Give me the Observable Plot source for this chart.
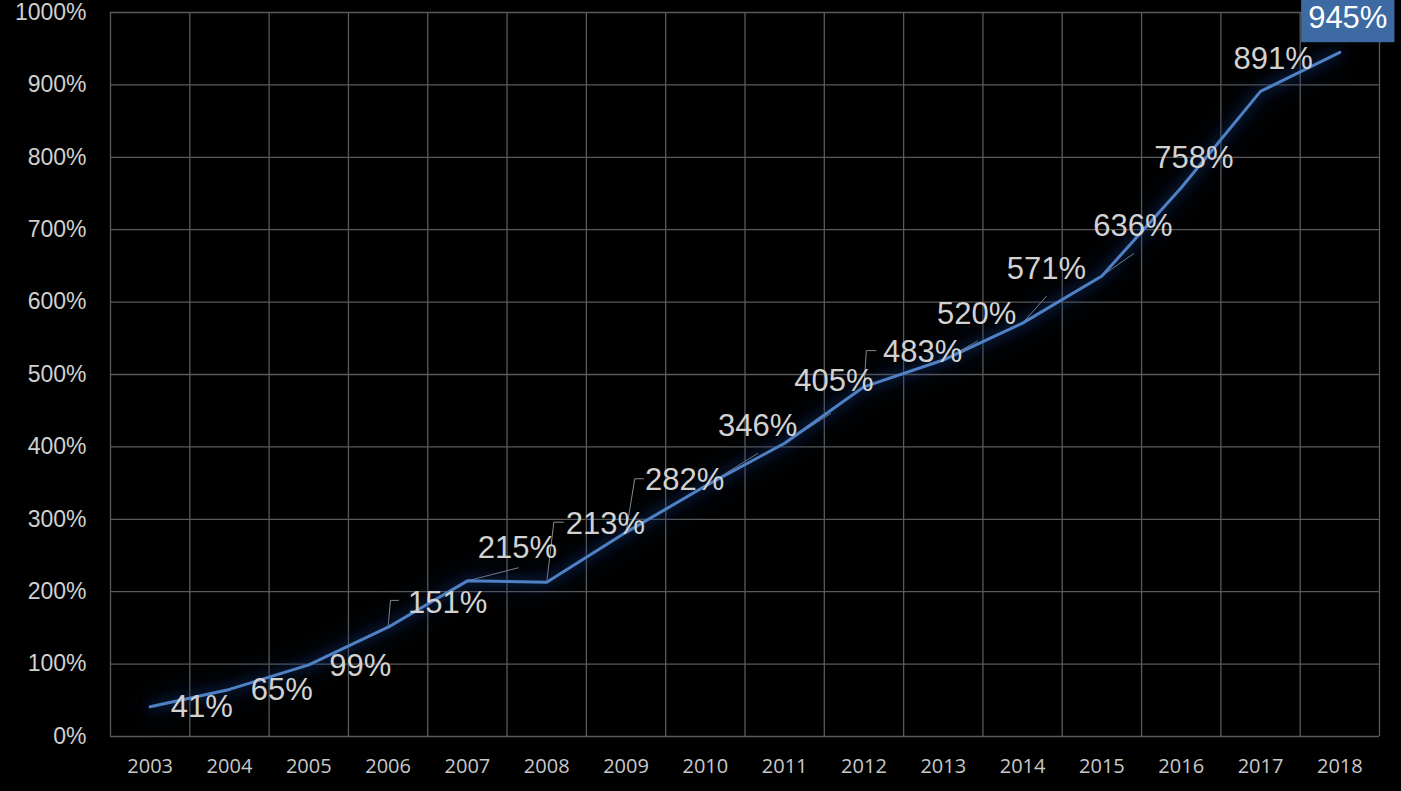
<!DOCTYPE html>
<html><head><meta charset="utf-8">
<script src="https://cdn.jsdelivr.net/npm/d3@7"></script>
<script src="https://cdn.jsdelivr.net/npm/@observablehq/plot@0.6"></script>
<style>html,body{margin:0;padding:0;background:#000;overflow:hidden;}</style>
</head><body><div id="chart"></div>
<script>
// ---- data ----
const years  = [2003,2004,2005,2006,2007,2008,2009,2010,2011,2012,2013,2014,2015,2016,2017,2018];
const values = [41,65,99,151,215,213,282,346,405,483,520,571,636,758,891,945];
const yTicks = [0,100,200,300,400,500,600,700,800,900,1000];

// label placement (data units)
const labelX = [2003.65,2004.66,2005.65,2006.75,2007.63,2008.74,2009.74,2010.66,2011.62,2012.74,2013.42,2014.30,2015.39,2016.16,2017.16,2018.10];
const labelY = [40,63.5,96.7,183.7,259.7,292.8,353.6,428.2,490.3,530.4,582.9,645,704.4,798.3,935,992];

// leader lines (data units): year -> bend/end points after the data point
const leaderYears = [2006,2007,2008,2009,2010,2011,2012,2013,2014,2015];
const leaderPts = [
  [[2006.03,188],[2006.13,188]],
  [[2007.64,233]],
  [[2008.09,296],[2008.21,296]],
  [[2009.11,356],[2009.22,356]],
  [[2010.66,391]],
  [[2011.58,446]],
  [[2012.03,533],[2012.15,533]],
  [[2013.43,546]],
  [[2014.30,608]],
  [[2015.40,667]]
];

const pts = years.map((y,i)=>({year:y, value:values[i]}));
const labels = years.map((y,i)=>({x:labelX[i], y:labelY[i], text: values[i] + "%", last: i === years.length-1}));
const leaders = [];
leaderYears.forEach((yr,k)=>{
  const v = values[years.indexOf(yr)];
  leaders.push({id:yr, x:yr, y:v});
  leaderPts[k].forEach(p=>leaders.push({id:yr, x:p[0], y:p[1]}));
});
const bounds = years.map(y=>y-0.5).concat([years[years.length-1]+0.5]);

const chart = Plot.plot({
  width: 1401,
  height: 791,
  marginLeft: 110,
  marginRight: 22,
  marginTop: 12,
  marginBottom: 55,
  style: {background:"#000", color:"#d0d0d0", fontFamily:"'Liberation Sans', Arial, sans-serif", overflow:"visible"},
  x: {domain:[bounds[0], bounds[bounds.length-1]], label:null},
  y: {domain:[0,1000], label:null},
  marks: [
    Plot.ruleY(yTicks, {stroke:"#5a5a5a", strokeWidth:1.3}),
    Plot.ruleX(bounds, {y1:0, y2:1000, stroke:"#5a5a5a", strokeWidth:1.3}),
    Plot.axisY({ticks:yTicks, tickFormat:d=>d+"%", tickSize:0, tickPadding:24, fontSize:23, fill:"#d0d0d0", label:null}),
    Plot.axisX({ticks:years, tickFormat:d=>String(d), tickSize:0, tickPadding:22, fontSize:20, fill:"#c8c8c8", fontFamily:"'Open Sans', sans-serif", label:null}),
    Plot.line(leaders, {x:"x", y:"y", z:"id", stroke:"#8a8a8a", strokeWidth:1}),
    Plot.line(pts, {x:"year", y:"value", stroke:"#4f81c4", strokeWidth:3, strokeLinejoin:"round"}),
    Plot.text(labels.filter(d=>!d.last), {x:"x", y:"y", text:"text", fontSize:31, fill:"#d2d2d2"}),
    Plot.text(labels.filter(d=>d.last), {x:"x", y:"y", text:"text", fontSize:31, fill:"#ffffff"})
  ]
});
document.getElementById("chart").appendChild(chart);

// glow on data line
const svg = d3.select(chart);
svg.selectAll("g[aria-label=line]").filter((d,i)=>i===1).selectAll("path")
   .style("filter","drop-shadow(0 0 6px rgba(25,70,150,0.85)) drop-shadow(0 0 12px rgba(15,45,110,0.8))");

// box behind last label
const texts = svg.selectAll("g[aria-label=text]").nodes();
const lastG = texts[texts.length-1];
const t = lastG.querySelector("text");
const bb = t.getBBox();
const tr = t.getAttribute("transform");
const r = d3.select(lastG).insert("rect","text")
  .attr("x", bb.x-7).attr("y", bb.y-8).attr("width", bb.width+14).attr("height", bb.height+15)
  .attr("fill","#3d6aa2");
if (tr) r.attr("transform", tr);
</script>
</body></html>
